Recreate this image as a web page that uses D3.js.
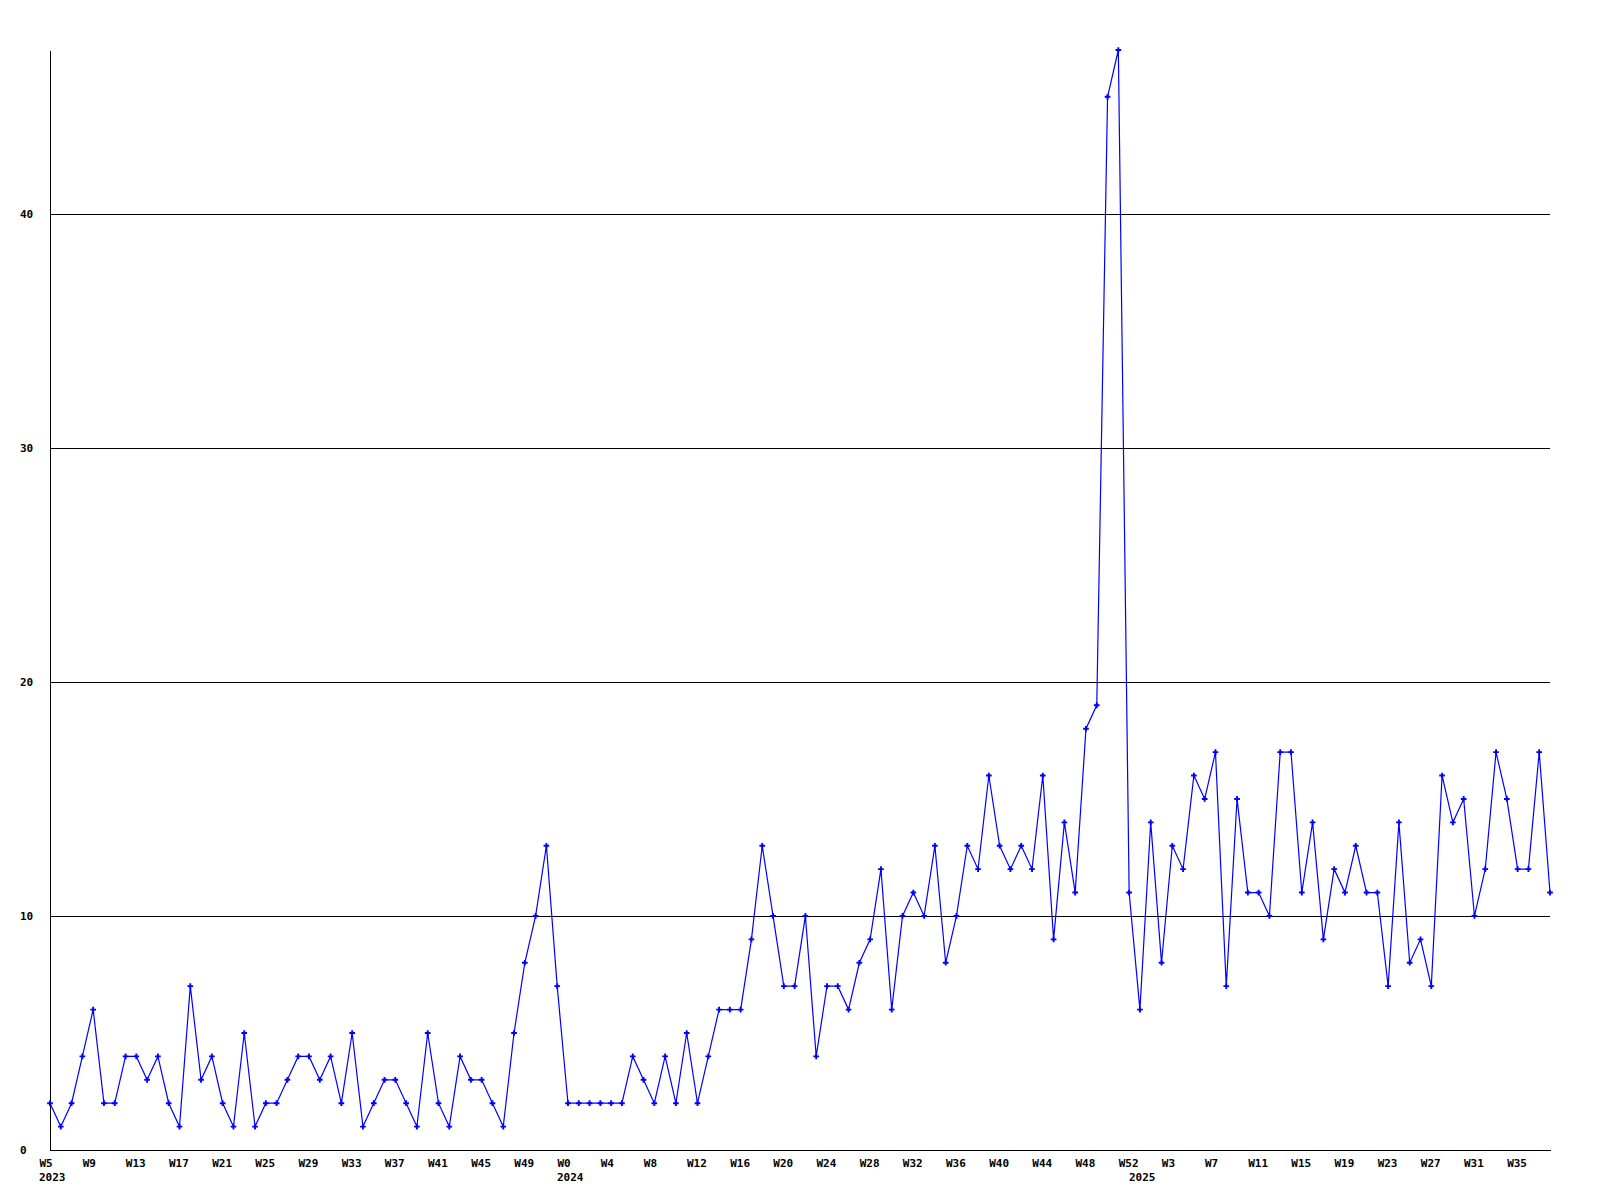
<!DOCTYPE html>
<html>
<head>
<meta charset="utf-8">
<script src="https://cdn.jsdelivr.net/npm/d3@7"></script>
<style>
  html, body { margin: 0; padding: 0; background: #ffffff; }
  svg { display: block; }
  text { font-family: "DejaVu Sans Mono", "Liberation Mono", monospace; font-weight: bold; font-size: 11px; fill: #000; }
</style>
</head>
<body>
<svg id="chart" width="1600" height="1200"></svg>
<script>
// ---- data ----
const years = ["2023", "2024", "2025"];
const weeks2023 = [5,6,7,8,9,10,11,12,13,14,15,16,17,18,19,20,21,22,23,24,25,26,27,28,29,30,31,32,33,34,35,36,37,38,39,40,41,42,43,44,45,46,47,48,49,50,51,52];
const weeks2024 = [0,1,2,3,4,5,6,7,8,9,10,11,12,13,14,15,16,17,18,19,20,21,22,23,24,25,26,27,28,29,30,31,32,33,34,35,36,37,38,39,40,41,42,43,44,45,46,47,48,49,50,51,52];
const weeks2025 = [0,1,2,3,4,5,6,7,8,9,10,11,12,13,14,15,16,17,18,19,20,21,22,23,24,25,26,27,28,29,30,31,32,33,34,35,36,37,38];
const values2023 = [2,1,2,4,6,2,2,4,4,3,4,2,1,7,3,4,2,1,5,1,2,2,3,4,4,3,4,2,5,1,2,3,3,2,1,5,2,1,4,3,3,2,1,5,8,10,13,7];
const values2024 = [2,2,2,2,2,2,4,3,2,4,2,5,2,4,6,6,6,9,13,10,7,7,10,4,7,7,6,8,9,12,6,10,11,10,13,8,10,13,12,16,13,12,13,12,16,9,14,11,18,19,45,47,11];
const values2025 = [6,14,8,13,12,16,15,17,7,15,11,11,10,17,17,11,14,9,12,11,13,11,11,7,14,8,9,7,16,14,15,10,12,17,15,12,12,17,11];
const yTicks = [0, 10, 20, 30, 40];
const yMax = 47;
const labelEvery = 4;

// ---- build table ----
const weekLists = [weeks2023, weeks2024, weeks2025];
const valueLists = [values2023, values2024, values2025];
const data = [];
years.forEach((yr, i) => {
  weekLists[i].forEach((w, j) => {
    data.push({ key: yr + "-W" + w, year: yr, week: w, first: j === 0, value: valueLists[i][j] });
  });
});
const categories = data.map(d => d.key);

// ---- layout ----
const plotLeft = 50, plotRight = 1550, plotTop = 50, plotBottom = 1150;
const svg = d3.select("#chart");

const x = d3.scalePoint().domain(categories).range([plotLeft, plotRight]).padding(0);
const y = d3.scaleLinear().domain([0, yMax]).range([plotBottom, plotTop]);

// gridlines + y labels
const yAxis = d3.axisLeft(y).tickValues(yTicks).tickSize(-(plotRight - plotLeft)).tickSizeOuter(0).tickFormat(d3.format("d"));
const gy = svg.append("g").attr("transform", `translate(${plotLeft},0)`).call(yAxis);
gy.attr("font-family", null).attr("font-size", null);
gy.select(".domain").attr("stroke", "#000").attr("shape-rendering", "crispEdges");
gy.selectAll(".tick line").attr("stroke", "#000").attr("shape-rendering", "crispEdges");
gy.selectAll(".tick text")
  .attr("x", -30).attr("dy", "0.35em")
  .attr("text-anchor", "start");

// bottom axis
const tickKeys = categories.filter((d, i) => i % labelEvery === 0);
const byKey = new Map(data.map(d => [d.key, d]));
const xAxis = d3.axisBottom(x).tickValues(tickKeys).tickSize(0).tickSizeOuter(0)
  .tickFormat(k => "W" + byKey.get(k).week);
const gx = svg.append("g").attr("transform", `translate(0,${plotBottom})`).call(xAxis);
gx.attr("font-family", null).attr("font-size", null);
gx.select(".domain").attr("stroke", "#000").attr("shape-rendering", "crispEdges");
gx.selectAll(".tick text")
  .attr("x", -11).attr("y", 13).attr("dy", "0.35em")
  .attr("text-anchor", "start");

// year labels
svg.append("g").selectAll("text")
  .data(data.filter(d => d.first))
  .join("text")
  .attr("x", d => x(d.key) - 11)
  .attr("y", plotBottom + 27)
  .attr("dy", "0.35em")
  .attr("text-anchor", "start")
  .text(d => d.year);

// line
const line = d3.line().x(d => x(d.key)).y(d => y(d.value));
svg.append("path")
  .datum(data)
  .attr("fill", "none")
  .attr("stroke", "#0000ff")
  .attr("stroke-width", 1.2)
  .attr("d", line);

// markers
const sym = d3.symbol().type(d3.symbolCross).size(18);
svg.append("g").selectAll("path")
  .data(data)
  .join("path")
  .attr("transform", d => `translate(${x(d.key)},${y(d.value)})`)
  .attr("d", sym)
  .attr("fill", "#0000ff");
</script>
</body>
</html>
